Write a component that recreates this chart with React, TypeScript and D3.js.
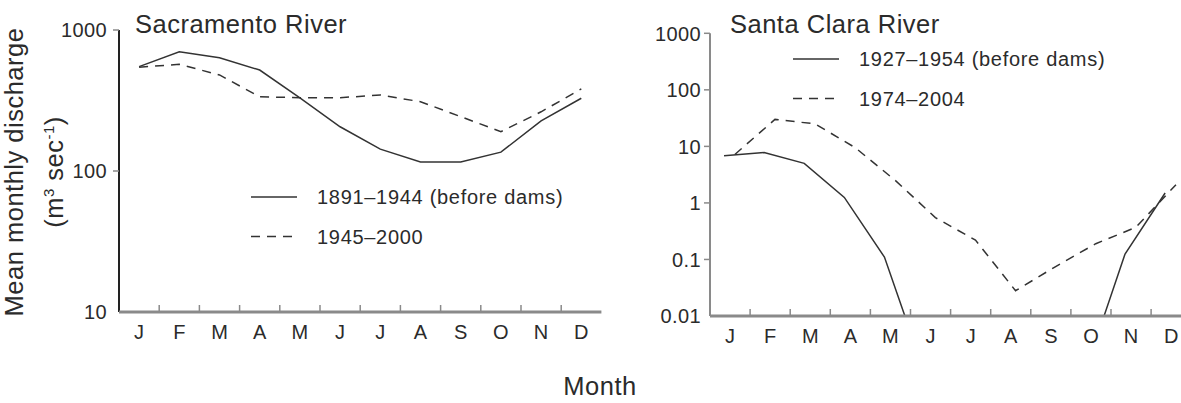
import React, { useEffect, useRef } from "react";
import * as d3 from "d3";

const months = ["J", "F", "M", "A", "M", "J", "J", "A", "S", "O", "N", "D"];

// Sacramento River, mean monthly discharge (m3/s)
const sacBefore = [550, 700, 635, 520, 330, 206, 143, 116, 116, 136, 227, 328];
const sacAfter = [544, 571, 480, 336, 331, 331, 346, 310, 243, 190, 263, 382];
const sacTicks = [10, 100, 1000];

// Santa Clara River, 0 = no flow (drawn off the bottom of the axis)
const scBefore = [6.8, 7.8, 5.0, 1.25, 0.11, 0, 0, 0, 0, 0, 0.125, 1.5];
const scAfter = [7.2, 30, 25, 9.5, 2.5, 0.55, 0.22, 0.028, 0.075, 0.19, 0.37, 2.1];
const scTicks = [0.01, 0.1, 1, 10, 100, 1000];

const sacLegend = ["1891\u20131944 (before dams)", "1945\u20132000"];
const scLegend = ["1927\u20131954 (before dams)", "1974\u20132004"];

const App = () => {
  const svgRef = useRef(null);

  useEffect(() => {
    const width = 1181,
      height = 403;
    const font = "'Liberation Sans', Arial, Helvetica, sans-serif";
    const ink = "#2b2b2b", axisGray = "#8a8a8a", lineColor = "#333";
    const dash = "9,7";

    const svg = d3.select(svgRef.current).attr("width", width).attr("height", height).html("");

    const drawPanel = (opts) => {
      const { x0, x1, yTop, yBottom, domain, ticks, series, title, titleX, legend, legendX, legendY, yAxisColor, clipId, labelGap } = opts;

      const x = d3.scaleBand().domain(d3.range(12)).range([x0, x1]).paddingInner(0).paddingOuter(0);
      const y = d3.scaleLog().domain(domain).range([yBottom, yTop]);
      const g = svg.append("g");

      // clip so that lines going to zero stop at the axis
      svg.append("clipPath").attr("id", clipId)
        .append("rect").attr("x", x0).attr("y", 0).attr("width", x1 - x0).attr("height", yBottom);

      const floor = domain[0] / 10;
      series.forEach((s) => {
        const line = d3.line()
          .x((d, i) => x(i) + x.bandwidth() * s.pos)
          .y((d) => y(d > 0 ? d : floor));
        g.append("path")
          .datum(s.values)
          .attr("d", line)
          .attr("fill", "none")
          .attr("stroke", lineColor)
          .attr("stroke-width", 1.5)
          .attr("stroke-dasharray", s.dashed ? dash : null)
          .attr("clip-path", `url(#${clipId})`);
      });

      // y axis
      g.append("line").attr("x1", x0).attr("x2", x0).attr("y1", yTop).attr("y2", yBottom)
        .attr("stroke", yAxisColor).attr("stroke-width", 2);
      g.selectAll(".ytick").data(ticks.slice(1)).enter().append("line")
        .attr("x1", x0 - 6).attr("x2", x0).attr("y1", (d) => y(d)).attr("y2", (d) => y(d))
        .attr("stroke", axisGray).attr("stroke-width", 1.5);
      g.selectAll(".ylab").data(ticks).enter().append("text")
        .attr("x", x0 - labelGap).attr("y", (d) => y(d)).attr("dy", "0.36em")
        .attr("text-anchor", "end").style("font-family", font).style("font-size", "20px")
        .style("letter-spacing", "0.4px")
        .style("fill", ink).text((d) => String(d));

      // x axis
      g.append("line").attr("x1", x0).attr("x2", x1).attr("y1", yBottom).attr("y2", yBottom)
        .attr("stroke", axisGray).attr("stroke-width", 3);
      g.selectAll(".xtick").data(d3.range(1, 12)).enter().append("line")
        .attr("x1", (d) => x(d)).attr("x2", (d) => x(d)).attr("y1", yBottom).attr("y2", yBottom - 7)
        .attr("stroke", axisGray).attr("stroke-width", 1.5);
      g.selectAll(".xlab").data(months).enter().append("text")
        .attr("x", (d, i) => x(i) + x.bandwidth() / 2).attr("y", yBottom + 27)
        .attr("text-anchor", "middle").style("font-family", font).style("font-size", "20px")
        .style("fill", ink).text((d) => d);

      // title
      g.append("text").attr("x", titleX).attr("y", 33)
        .style("font-family", font).style("font-size", "25.5px").style("letter-spacing", "0.5px")
        .style("fill", ink).text(title);

      // legend
      legend.forEach((label, i) => {
        const ly = legendY + i * 39.5;
        g.append("line").attr("x1", legendX).attr("x2", legendX + 46).attr("y1", ly).attr("y2", ly)
          .attr("stroke", lineColor).attr("stroke-width", 1.5)
          .attr("stroke-dasharray", i === 1 ? dash : null);
        g.append("text").attr("x", legendX + 66).attr("y", ly).attr("dy", "0.36em")
          .style("font-family", font).style("font-size", "20px").style("letter-spacing", "0.7px")
          .style("fill", ink).text(label);
      });
    };

    drawPanel({
      x0: 119, x1: 601.4, yTop: 30, yBottom: 312, domain: [10, 1000], ticks: sacTicks,
      series: [
        { values: sacBefore, dashed: false, pos: 0.5 },
        { values: sacAfter, dashed: true, pos: 0.5 },
      ],
      title: "Sacramento River", titleX: 135, legend: sacLegend, legendX: 251, legendY: 197,
      yAxisColor: "#222", clipId: "clipSac", labelGap: 12,
    });

    drawPanel({
      x0: 710, x1: 1191.2, yTop: 33.3, yBottom: 316, domain: [0.01, 1000], ticks: scTicks,
      series: [
        { values: scBefore, dashed: false, pos: 0.35 },
        { values: scAfter, dashed: true, pos: 0.62 },
      ],
      title: "Santa Clara River", titleX: 730, legend: scLegend, legendX: 793, legendY: 59,
      yAxisColor: axisGray, clipId: "clipSc", labelGap: 9,
    });

    // shared axis titles
    const yTitle = svg.append("text")
      .attr("transform", "translate(23,172) rotate(-90)")
      .attr("text-anchor", "middle")
      .style("font-family", font).style("font-size", "25.5px").style("letter-spacing", "0.5px")
      .style("fill", ink);
    yTitle.text("Mean monthly discharge");

    const unit = svg.append("text")
      .attr("transform", "translate(63,172) rotate(-90)")
      .attr("text-anchor", "middle")
      .style("font-family", font).style("font-size", "25.5px").style("letter-spacing", "0.5px")
      .style("fill", ink);
    unit.append("tspan").text("(m");
    unit.append("tspan").attr("dy", -9).style("font-size", "15px").text("3");
    unit.append("tspan").attr("dy", 9).text(" sec");
    unit.append("tspan").attr("dy", -9).style("font-size", "15px").text("-1");
    unit.append("tspan").attr("dy", 9).text(")");

    svg.append("text").attr("x", 600).attr("y", 395).attr("text-anchor", "middle")
      .style("font-family", font).style("font-size", "25.5px").style("letter-spacing", "0.5px")
      .style("fill", ink).text("Month");
  }, []);

  return <svg ref={svgRef} style={{ position: "absolute", left: 0, top: 0, background: "#fff" }}></svg>;
};

export default App;
